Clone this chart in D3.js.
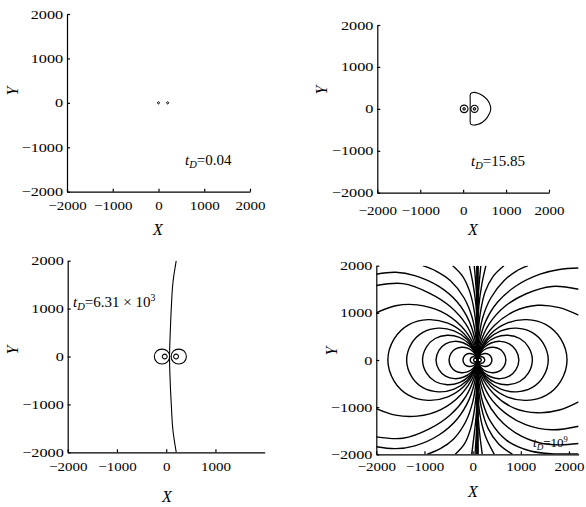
<!DOCTYPE html>
<html><head><meta charset="utf-8">
<script src="https://cdn.jsdelivr.net/npm/d3@7"></script>
<style>
body{margin:0;background:#fff;}
svg{display:block;}
svg text{font-family:"Liberation Serif","DejaVu Serif",serif;}
</style></head><body>
<svg id="c" width="586" height="507"></svg>
<script>
// ---------- data ----------
const yDomain = [-2000, 2000];
const xTicks = [-2000, -1000, 0, 1000, 2000];
const xTicksP3 = [-2000, -1000, 0, 1000];
const yTicks = [-2000, -1000, 0, 1000, 2000];
const axisTitleX = "X";
const axisTitleY = "Y";
const timeValues = ["0.04", "15.85", "6.31 × 10", "10"];
const timeExponents = ["", "", "3", "9"];

// panel 1 (tD = 0.04): two tiny loops at the wells
const p1Closed = [
  [[-25,0],[0,25],[25,0],[0,-25]],
  [[175,0],[200,25],[225,0],[200,-25]]
];

// panel 2 (tD = 15.85)
const p2Closed = [
  [[-67,0],[-41,63],[23,90],[87,63],[113,0],[87,-63],[23,-90],[-41,-63]],
  [[179,0],[204,60],[264,85],[324,60],[349,0],[324,-60],[264,-85],[204,-60]],
  [[-7,0],[23,30],[53,0],[23,-30]],
  [[234,0],[264,30],[294,0],[264,-30]],
  [[172,360],[230,390],[330,380],[450,320],[566,214],[643,0],[566,-198],[450,-320],[330,-375],[230,-385],[172,-360],[165,-180],[163,0],[165,180]]
];

// panel 3 (tD = 6.31e3)
const p3Open = [
  [[204,2000],[136,1535],[102,976],[82,489],[68,0],[82,-556],[102,-976],[136,-1535],[204,-2000]]
];
const p3Closed = [
  [[-240,0],[-195,110],[-85,155],[25,110],[70,0],[25,-110],[-85,-155],[-195,-110]],
  [[100,0],[145,110],[255,155],[365,110],[410,0],[365,-110],[255,-155],[145,-110]],
  [[-80,0],[-65,35],[-30,50],[5,35],[20,0],[5,-35],[-30,-50],[-65,-35]],
  [[150,0],[165,35],[200,50],[235,35],[250,0],[235,-35],[200,-50],[165,-35]]
];

// panel 4 (tD = 1e9): loops through the centre
const p4Loops = [
  [[100,0],[97,11],[88,24],[74,34],[56,37],[38,32],[26,19],[20,0],[26,-19],[38,-32],[56,-37],[74,-34],[88,-24],[97,-11],[100,0]],
  [[100,0],[94,21],[78,45],[50,63],[18,69],[-16,60],[-40,36],[-50,0],[-40,-36],[-16,-60],[18,-69],[50,-63],[78,-45],[94,-21],[100,0]],
  [[100,0],[88,42],[55,90],[1,126],[-65,138],[-131,120],[-179,72],[-200,0],[-179,-72],[-131,-120],[-65,-138],[1,-126],[55,-90],[88,-42],[100,0]],
  [[100,0],[76,83],[11,177],[-95,248],[-225,271],[-354,236],[-449,142],[-490,0],[-449,-142],[-354,-236],[-225,-271],[-95,-248],[11,-177],[76,-83],[100,0]],
  [[100,0],[66,120],[-29,258],[-184,361],[-373,396],[-562,344],[-700,206],[-760,0],[-700,-206],[-562,-344],[-373,-396],[-184,-361],[-29,-258],[66,-120],[100,0]],
  [[100,0],[54,160],[-71,342],[-276,479],[-527,524],[-778,456],[-960,274],[-1040,0],[-960,-274],[-778,-456],[-527,-524],[-276,-479],[-71,-342],[54,-160],[100,0]],
  [[100,0],[41,206],[-120,441],[-385,617],[-708,676],[-1032,588],[-1267,353],[-1370,0],[-1267,-353],[-1032,-588],[-708,-676],[-385,-617],[-120,-441],[41,-206],[100,0]],
  [[100,0],[26,260],[-179,558],[-514,781],[-923,856],[-1332,744],[-1630,446],[-1760,0],[-1630,-446],[-1332,-744],[-923,-856],[-514,-781],[-179,-558],[26,-260],[100,0]],
  [[100,0],[103,11],[112,24],[126,34],[144,37],[162,32],[174,19],[180,0],[174,-19],[162,-32],[144,-37],[126,-34],[112,-24],[103,-11],[100,0]],
  [[100,0],[106,21],[122,45],[150,63],[182,69],[216,60],[240,36],[250,0],[240,-36],[216,-60],[182,-69],[150,-63],[122,-45],[106,-21],[100,0]],
  [[100,0],[112,42],[145,90],[199,126],[265,138],[331,120],[379,72],[400,0],[379,-72],[331,-120],[265,-138],[199,-126],[145,-90],[112,-42],[100,0]],
  [[100,0],[124,83],[189,177],[295,248],[425,271],[554,236],[649,142],[690,0],[649,-142],[554,-236],[425,-271],[295,-248],[189,-177],[124,-83],[100,0]],
  [[100,0],[134,120],[229,258],[384,361],[573,396],[762,344],[900,206],[960,0],[900,-206],[762,-344],[573,-396],[384,-361],[229,-258],[134,-120],[100,0]],
  [[100,0],[146,160],[271,342],[476,479],[727,524],[978,456],[1160,274],[1240,0],[1160,-274],[978,-456],[727,-524],[476,-479],[271,-342],[146,-160],[100,0]],
  [[100,0],[159,206],[320,441],[585,617],[908,676],[1232,588],[1467,353],[1570,0],[1467,-353],[1232,-588],[908,-676],[585,-617],[320,-441],[159,-206],[100,0]],
  [[100,0],[174,260],[379,558],[714,781],[1123,856],[1532,744],[1830,446],[1960,0],[1830,-446],[1532,-744],[1123,-856],[714,-781],[379,-558],[174,-260],[100,0]]
];
// panel 4: open lines leaving the centre
const p4Open = [
  [[100,-2000],[100,2000]],
  [[85,-2000],[92,-800],[95,0],[92,800],[85,2000]],
  [[115,-2000],[108,-800],[105,0],[108,800],[115,2000]],
  // upper left
  [[100,0],[20,330],[-240,720],[-660,1030],[-1150,1170],[-1600,1150],[-2000,1000]],
  [[100,0],[40,350],[-140,760],[-460,1130],[-900,1420],[-1450,1620],[-2000,1580]],
  [[100,0],[60,380],[-70,820],[-320,1230],[-700,1560],[-1200,1790],[-1600,1860],[-2000,1820]],
  [[100,0],[75,420],[-10,900],[-180,1320],[-460,1680],[-750,1880],[-1035,2000]],
  [[100,0],[88,500],[40,1000],[-60,1450],[-210,1780],[-414,2000]],
  [[100,0],[96,600],[70,1150],[10,1600],[-69,2000]],
  [[100,0],[100,800],[80,1400],[34,2000]],
  // lower left
  [[100,0],[20,-330],[-240,-730],[-660,-1050],[-1150,-1190],[-1600,-1170],[-2000,-1030]],
  [[100,0],[40,-350],[-140,-770],[-460,-1160],[-900,-1460],[-1450,-1660],[-2000,-1630]],
  [[100,0],[60,-380],[-70,-830],[-320,-1250],[-700,-1590],[-1200,-1820],[-1600,-1880],[-2000,-1840]],
  [[100,0],[75,-420],[0,-900],[-150,-1320],[-400,-1680],[-670,-1880],[-950,-2000]],
  [[100,0],[88,-500],[45,-1000],[-40,-1450],[-170,-1780],[-360,-2000]],
  [[100,0],[96,-600],[75,-1150],[30,-1600],[-20,-2000]],
  [[100,0],[100,-800],[85,-1400],[50,-2000]],
  // upper right
  [[100,0],[180,330],[440,720],[860,1030],[1350,1160],[1800,1110],[2200,950]],
  [[100,0],[160,350],[340,760],[660,1130],[1100,1400],[1650,1560],[2200,1500]],
  [[100,0],[140,380],[270,820],[520,1230],[900,1570],[1400,1820],[1800,1920],[2200,1950]],
  [[100,0],[125,420],[210,900],[380,1320],[650,1680],[900,1880],[1150,2000]],
  [[100,0],[112,500],[160,1000],[260,1450],[430,1780],[650,2000]],
  [[100,0],[104,600],[130,1150],[190,1600],[275,2000]],
  [[100,0],[100,800],[120,1400],[170,2000]],
  // lower right
  [[100,0],[180,-330],[440,-720],[860,-1020],[1350,-1120],[1800,-1060],[2200,-886]],
  [[100,0],[160,-350],[340,-760],[660,-1110],[1100,-1370],[1650,-1480],[2200,-1404]],
  [[100,0],[140,-380],[270,-820],[520,-1220],[900,-1550],[1400,-1760],[1800,-1800],[2200,-1772]],
  [[100,0],[125,-420],[210,-900],[380,-1320],[700,-1700],[1200,-1930],[1700,-1990],[2200,-1990]],
  [[100,0],[115,-500],[180,-1000],[320,-1450],[540,-1780],[828,-2000]],
  [[100,0],[105,-600],[150,-1150],[260,-1600],[450,-2000]],
  [[100,0],[100,-800],[130,-1400],[200,-2000]]
];

// ---------- drawing ----------
const svg = d3.select('#c');
const SERIF = '"Liberation Serif","DejaVu Serif",serif';

const panels = [
  {id:1, xd:[-2000,2000], xr:[67,250], yr:[191.7,14], xt:xTicks, padX:9,
   open:[], closed:p1Closed, sw:1,
   xTitle:[158,235], yTitle:[12,91], ann:[185,165,15]},
  {id:2, xd:[-2000,2000], xr:[377.3,549], yr:[192.7,25], xt:xTicks, padX:13,
   open:[], closed:p2Closed, sw:1.1,
   xTitle:[473,235], yTitle:[321,90], ann:[471,166,15]},
  {id:3, xd:[-2000,2000], xr:[67.7,264.7], yr:[452.3,260.7], xt:xTicksP3, padX:10,
   open:p3Open, closed:p3Closed, sw:1.1,
   xTitle:[167,502], yTitle:[12,350], ann:[73,307,15]},
  {id:4, xd:[-2000,2200], xr:[376.3,578.6], yr:[454.3,265.7], xt:xTicks, padX:8,
   open:p4Open.concat(p4Loops), closed:[], sw:1.4,
   xTitle:[473,497], yTitle:[331,351], ann:[533,447,13]}
];

panels.forEach((cfg, i) => {
  const g = svg.append('g');
  const x = d3.scaleLinear().domain(cfg.xd).range(cfg.xr);
  const y = d3.scaleLinear().domain(yDomain).range(cfg.yr);
  const cid = 'clip' + cfg.id;
  svg.append('clipPath').attr('id', cid).append('rect')
    .attr('x', cfg.xr[0]).attr('y', cfg.yr[1])
    .attr('width', cfg.xr[1] - cfg.xr[0]).attr('height', cfg.yr[0] - cfg.yr[1]);
  const plot = g.append('g').attr('clip-path', `url(#${cid})`);
  const lineOpen = d3.line().x(d => x(d[0])).y(d => y(d[1])).curve(d3.curveCatmullRom.alpha(0.5));
  const lineClosed = d3.line().x(d => x(d[0])).y(d => y(d[1])).curve(d3.curveCatmullRomClosed.alpha(0.5));
  plot.selectAll('path.o').data(cfg.open).join('path').attr('class','o')
    .attr('d', lineOpen).attr('fill','none').attr('stroke','#000').attr('stroke-width', cfg.sw);
  plot.selectAll('path.c').data(cfg.closed).join('path').attr('class','c')
    .attr('d', lineClosed).attr('fill','none').attr('stroke','#000').attr('stroke-width', cfg.sw);

  // axes
  const xa = g.append('g').attr('transform', `translate(0,${y(-2000)})`)
    .call(d3.axisBottom(x).tickValues(cfg.xt).tickSizeInner(-3).tickSizeOuter(0).tickPadding(cfg.padX).tickFormat(d3.format('d')));
  const ya = g.append('g').attr('transform', `translate(${x(cfg.xd[0])},0)`)
    .call(d3.axisLeft(y).tickValues(yTicks).tickSizeInner(-3).tickSizeOuter(0).tickPadding(3).tickFormat(d3.format('d')));
  [[xa, 1.2], [ya, 1.3]].forEach(([a, sx]) => {
    a.attr('font-family', null).attr('font-size', null);
    a.select('.domain').attr('stroke','#000').attr('stroke-width',1.2);
    a.selectAll('.tick line').attr('stroke','#000').attr('stroke-width',1.2);
    a.selectAll('.tick text').attr('fill','#000')
      .attr('font-family', SERIF).attr('font-size', 12.5)
      .attr('transform', `scale(${sx},1)`);
  });

  // axis titles
  g.append('text').attr('x', cfg.xTitle[0]).attr('y', cfg.xTitle[1])
    .attr('text-anchor','middle').attr('font-family', SERIF).attr('font-style','italic')
    .attr('font-size', 16).text(axisTitleX);
  g.append('text').attr('transform', `translate(${cfg.yTitle[0]},${cfg.yTitle[1]}) rotate(-90)`)
    .attr('text-anchor','middle').attr('dy','0.35em').attr('font-family', SERIF).attr('font-style','italic')
    .attr('font-size', 16).text(axisTitleY);

  // time annotation
  const fs = cfg.ann[2];
  const t = g.append('text').attr('x', cfg.ann[0]).attr('y', cfg.ann[1])
    .attr('font-family', SERIF).attr('font-size', fs).attr('fill','#000');
  t.append('tspan').attr('font-style','italic').text('t');
  t.append('tspan').attr('font-style','italic').attr('font-size', fs*0.7).attr('dy', fs*0.22).text('D');
  t.append('tspan').attr('dy', -fs*0.22).text('=' + timeValues[i]);
  if (timeExponents[i]) {
    t.append('tspan').attr('font-size', fs*0.65).attr('dy', -fs*0.42).text(timeExponents[i]);
  }
});
</script>
</body></html>
